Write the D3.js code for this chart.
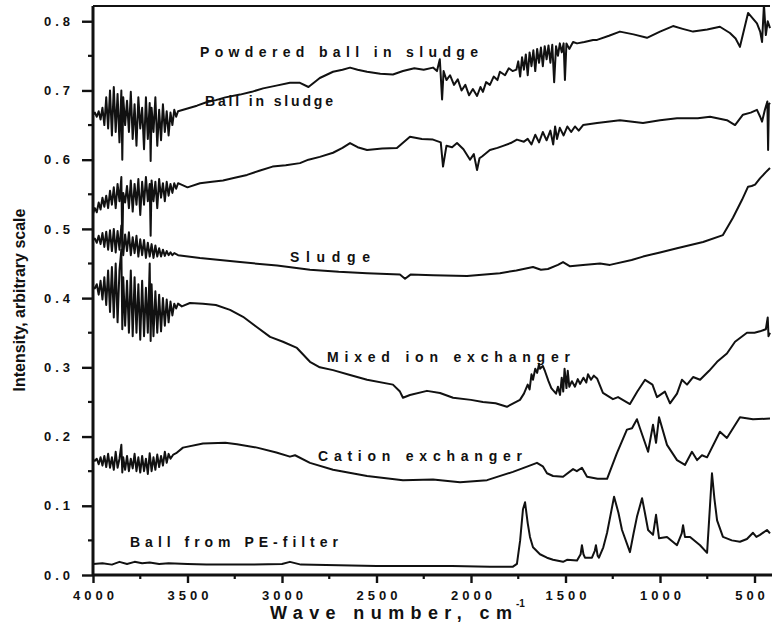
<!DOCTYPE html>
<html><head><meta charset="utf-8">
<script src="https://cdn.jsdelivr.net/npm/d3@7"></script>
<style>body{margin:0;background:#fff} svg{display:block}</style>
</head><body><svg id="c" width="772" height="628"></svg>
<script>
// ---------- DATA ([wavenumber cm^-1, intensity]) ----------
const powderedBallInSludge = [[4000,0.665],[3990,0.668],[3980,0.662],[3970,0.670],[3960,0.658],[3950,0.675],[3940,0.650],[3930,0.690],[3920,0.645],[3910,0.700],[3900,0.635],[3890,0.705],[3880,0.640],[3870,0.695],[3860,0.625],[3850,0.700],[3845,0.600],[3840,0.690],[3830,0.650],[3820,0.685],[3810,0.640],[3800,0.698],[3790,0.630],[3780,0.680],[3770,0.620],[3760,0.690],[3750,0.645],[3740,0.675],[3730,0.615],[3720,0.690],[3710,0.630],[3700,0.682],[3695,0.598],[3690,0.675],[3680,0.640],[3670,0.690],[3660,0.620],[3650,0.672],[3640,0.628],[3630,0.680],[3620,0.640],[3610,0.670],[3600,0.635],[3590,0.668],[3580,0.650],[3570,0.672],[3560,0.662],[3550,0.670],[3500,0.674],[3450,0.678],[3400,0.683],[3350,0.686],[3300,0.690],[3222,0.694],[3160,0.698],[3100,0.703],[3030,0.707],[2958,0.711],[2905,0.711],[2860,0.705],[2800,0.718],[2730,0.727],[2680,0.730],[2640,0.733],[2600,0.730],[2550,0.727],[2480,0.724],[2413,0.723],[2360,0.728],[2300,0.732],[2250,0.730],[2201,0.733],[2180,0.728],[2165,0.745],[2153,0.687],[2145,0.728],[2130,0.715],[2111,0.722],[2090,0.708],[2070,0.716],[2050,0.700],[2030,0.708],[2010,0.693],[1990,0.702],[1968,0.692],[1950,0.705],[1937,0.698],[1920,0.712],[1900,0.708],[1880,0.720],[1860,0.715],[1847,0.727],[1820,0.722],[1800,0.732],[1780,0.728],[1760,0.730],[1750,0.742],[1740,0.720],[1730,0.748],[1720,0.730],[1710,0.752],[1700,0.722],[1690,0.755],[1680,0.735],[1670,0.758],[1660,0.728],[1650,0.760],[1640,0.740],[1630,0.762],[1620,0.735],[1610,0.764],[1600,0.745],[1590,0.765],[1580,0.740],[1570,0.766],[1560,0.712],[1550,0.764],[1540,0.750],[1530,0.768],[1520,0.755],[1510,0.768],[1503,0.715],[1495,0.768],[1480,0.760],[1460,0.770],[1439,0.768],[1400,0.770],[1354,0.773],[1333,0.773],[1270,0.779],[1212,0.785],[1140,0.781],[1069,0.776],[1000,0.785],[931,0.793],[880,0.789],[825,0.785],[750,0.788],[683,0.792],[630,0.783],[600,0.775],[577,0.763],[534,0.812],[487,0.797],[470,0.785],[460,0.770],[450,0.824],[440,0.780],[430,0.800],[418,0.790]];

const ballInSludge = [[4000,0.522],[3990,0.530],[3980,0.524],[3970,0.538],[3960,0.528],[3950,0.545],[3940,0.532],[3930,0.548],[3920,0.530],[3910,0.555],[3900,0.535],[3890,0.560],[3880,0.530],[3870,0.565],[3860,0.540],[3850,0.575],[3845,0.470],[3840,0.552],[3830,0.538],[3820,0.562],[3810,0.530],[3800,0.570],[3790,0.525],[3780,0.565],[3770,0.535],[3760,0.572],[3750,0.520],[3740,0.568],[3730,0.535],[3720,0.575],[3710,0.540],[3700,0.565],[3695,0.490],[3690,0.570],[3680,0.540],[3670,0.568],[3660,0.530],[3650,0.572],[3640,0.545],[3630,0.566],[3620,0.540],[3610,0.568],[3600,0.548],[3590,0.565],[3580,0.552],[3570,0.566],[3560,0.558],[3550,0.566],[3500,0.560],[3434,0.566],[3370,0.568],[3312,0.570],[3250,0.574],[3185,0.578],[3120,0.584],[3050,0.590],[2980,0.592],[2905,0.595],[2860,0.600],[2800,0.604],[2730,0.610],[2680,0.617],[2640,0.624],[2600,0.618],[2550,0.614],[2470,0.616],[2392,0.617],[2323,0.633],[2260,0.630],[2201,0.629],[2160,0.625],[2148,0.590],[2130,0.620],[2100,0.618],[2074,0.624],[2040,0.615],[2005,0.600],[1985,0.608],[1968,0.585],[1955,0.602],[1940,0.605],[1900,0.614],[1860,0.617],[1830,0.620],[1790,0.624],[1757,0.629],[1720,0.626],[1700,0.630],[1680,0.622],[1660,0.636],[1640,0.625],[1620,0.640],[1600,0.628],[1580,0.642],[1565,0.622],[1555,0.648],[1545,0.630],[1530,0.646],[1510,0.635],[1490,0.648],[1470,0.640],[1450,0.648],[1430,0.642],[1407,0.650],[1333,0.653],[1212,0.657],[1090,0.653],[1000,0.657],[910,0.660],[800,0.660],[735,0.662],[646,0.657],[603,0.650],[561,0.665],[520,0.668],[487,0.672],[470,0.662],[460,0.655],[445,0.672],[432,0.684],[428,0.614],[424,0.680],[418,0.682]];

const sludge = [[4000,0.484],[3990,0.486],[3980,0.480],[3970,0.490],[3960,0.478],[3950,0.494],[3940,0.474],[3930,0.496],[3920,0.470],[3910,0.498],[3900,0.468],[3890,0.500],[3880,0.466],[3870,0.497],[3860,0.470],[3850,0.505],[3840,0.462],[3830,0.492],[3820,0.468],[3810,0.495],[3800,0.462],[3790,0.488],[3780,0.465],[3770,0.490],[3760,0.460],[3750,0.485],[3740,0.462],[3730,0.484],[3720,0.458],[3710,0.480],[3700,0.460],[3690,0.478],[3680,0.458],[3670,0.476],[3660,0.460],[3650,0.472],[3640,0.460],[3630,0.470],[3620,0.461],[3610,0.468],[3600,0.462],[3590,0.466],[3580,0.462],[3570,0.465],[3550,0.462],[3434,0.458],[3222,0.452],[3026,0.447],[2852,0.441],[2700,0.438],[2550,0.436],[2376,0.434],[2349,0.428],[2320,0.434],[2200,0.433],[2021,0.432],[1847,0.436],[1760,0.440],[1672,0.445],[1630,0.441],[1593,0.442],[1540,0.448],[1513,0.452],[1476,0.446],[1407,0.448],[1317,0.450],[1265,0.448],[1150,0.455],[1090,0.460],[1000,0.466],[910,0.472],[772,0.481],[667,0.491],[614,0.516],[566,0.542],[534,0.561],[515,0.562],[497,0.564],[471,0.573],[440,0.582],[418,0.588]];

const mixedIonExchanger = [[4000,0.416],[3990,0.414],[3980,0.420],[3970,0.405],[3960,0.425],[3950,0.398],[3940,0.430],[3930,0.390],[3920,0.440],[3910,0.380],[3900,0.445],[3890,0.372],[3880,0.450],[3870,0.365],[3860,0.440],[3850,0.470],[3845,0.355],[3840,0.430],[3830,0.360],[3820,0.425],[3810,0.350],[3800,0.440],[3790,0.345],[3780,0.430],[3770,0.350],[3760,0.420],[3750,0.340],[3740,0.425],[3730,0.345],[3720,0.415],[3710,0.350],[3700,0.450],[3695,0.338],[3690,0.420],[3680,0.345],[3670,0.410],[3660,0.350],[3650,0.405],[3640,0.352],[3630,0.400],[3620,0.360],[3610,0.398],[3600,0.365],[3590,0.395],[3580,0.375],[3570,0.392],[3560,0.385],[3550,0.392],[3530,0.388],[3487,0.393],[3418,0.392],[3350,0.390],[3275,0.383],[3206,0.373],[3132,0.358],[3063,0.344],[2995,0.337],[2921,0.328],[2852,0.308],[2800,0.300],[2730,0.296],[2640,0.289],[2550,0.282],[2413,0.275],[2376,0.265],[2360,0.256],[2323,0.260],[2233,0.266],[2164,0.263],[2095,0.256],[2000,0.253],[1937,0.250],[1870,0.248],[1810,0.243],[1741,0.253],[1720,0.262],[1700,0.275],[1690,0.268],[1680,0.290],[1672,0.282],[1660,0.298],[1650,0.292],[1640,0.305],[1635,0.298],[1620,0.302],[1608,0.294],[1590,0.280],[1575,0.270],[1566,0.267],[1550,0.262],[1540,0.272],[1529,0.260],[1520,0.285],[1512,0.265],[1505,0.298],[1495,0.270],[1488,0.295],[1480,0.272],[1466,0.280],[1450,0.272],[1435,0.283],[1423,0.276],[1405,0.285],[1390,0.278],[1381,0.290],[1365,0.282],[1350,0.288],[1333,0.284],[1302,0.263],[1249,0.254],[1222,0.257],[1159,0.247],[1120,0.265],[1079,0.282],[1040,0.275],[1016,0.257],[974,0.265],[947,0.248],[910,0.262],[884,0.282],[857,0.275],[825,0.286],[788,0.282],[740,0.295],[698,0.308],[646,0.320],[603,0.337],[540,0.350],[500,0.350],[471,0.352],[440,0.355],[430,0.372],[426,0.345],[418,0.350]];

const cationExchanger = [[4000,0.166],[3990,0.165],[3980,0.168],[3970,0.160],[3960,0.170],[3950,0.158],[3940,0.172],[3930,0.156],[3920,0.175],[3910,0.155],[3900,0.170],[3890,0.152],[3880,0.178],[3870,0.155],[3860,0.168],[3850,0.188],[3845,0.148],[3840,0.170],[3830,0.152],[3820,0.172],[3810,0.150],[3800,0.168],[3790,0.154],[3780,0.175],[3770,0.150],[3760,0.170],[3750,0.148],[3740,0.172],[3730,0.150],[3720,0.168],[3710,0.146],[3700,0.176],[3690,0.150],[3680,0.170],[3670,0.152],[3660,0.174],[3650,0.156],[3640,0.172],[3630,0.158],[3620,0.178],[3610,0.162],[3600,0.175],[3590,0.168],[3575,0.174],[3560,0.176],[3524,0.184],[3418,0.190],[3300,0.191],[3238,0.189],[3132,0.184],[3030,0.177],[2958,0.171],[2931,0.173],[2852,0.162],[2730,0.152],[2550,0.143],[2360,0.137],[2201,0.138],[2058,0.134],[1915,0.137],[1778,0.149],[1700,0.157],[1651,0.162],[1620,0.157],[1598,0.147],[1566,0.143],[1513,0.142],[1460,0.153],[1440,0.150],[1413,0.155],[1386,0.142],[1330,0.139],[1280,0.139],[1228,0.176],[1175,0.210],[1148,0.212],[1122,0.225],[1106,0.212],[1063,0.178],[1037,0.217],[1021,0.191],[1005,0.228],[963,0.188],[910,0.166],[868,0.159],[831,0.178],[804,0.166],[778,0.173],[751,0.170],[683,0.207],[646,0.198],[577,0.228],[508,0.225],[418,0.226]];

const ballFromPEFilter = [[4000,0.016],[3950,0.017],[3900,0.015],[3860,0.019],[3820,0.016],[3780,0.019],[3740,0.017],[3700,0.018],[3650,0.016],[3600,0.017],[3500,0.016],[3400,0.015],[3200,0.015],[3000,0.016],[2958,0.019],[2900,0.015],[2700,0.014],[2500,0.013],[2300,0.013],[2100,0.013],[1900,0.012],[1778,0.012],[1757,0.016],[1740,0.050],[1725,0.095],[1714,0.105],[1700,0.075],[1688,0.055],[1672,0.040],[1635,0.030],[1598,0.025],[1566,0.022],[1513,0.019],[1492,0.022],[1439,0.021],[1420,0.030],[1413,0.043],[1405,0.030],[1397,0.025],[1360,0.025],[1345,0.035],[1339,0.043],[1330,0.028],[1323,0.025],[1300,0.040],[1280,0.061],[1243,0.113],[1220,0.090],[1201,0.065],[1159,0.033],[1140,0.060],[1122,0.084],[1095,0.111],[1080,0.090],[1063,0.065],[1037,0.058],[1021,0.087],[1005,0.053],[963,0.055],[910,0.043],[885,0.060],[878,0.072],[868,0.055],[841,0.055],[788,0.043],[751,0.032],[740,0.080],[725,0.147],[712,0.110],[698,0.079],[667,0.055],[620,0.050],[577,0.048],[540,0.052],[508,0.061],[490,0.055],[471,0.058],[434,0.065],[418,0.060]];

const seriesNames = ["Powdered ball in sludge","Ball in sludge","Sludge","Mixed ion exchanger","Cation exchanger","Ball from PE-filter"];
const seriesData = [powderedBallInSludge, ballInSludge, sludge, mixedIonExchanger, cationExchanger, ballFromPEFilter];
const xTicks = [4000,3500,3000,2500,2000,1500,1000,500];
const xMinorTicks = [3750,3250,2750,2250,1750,1250,750];
const yTicks = [0,0.1,0.2,0.3,0.4,0.5,0.6,0.7,0.8];
const yMinorTicks = [0.05,0.15,0.25,0.35,0.45,0.55,0.65,0.75];
const xTitle = "Wave number, cm";
const yTitle = "Intensity, arbitrary scale";

// ---------- LAYOUT ----------
const svg = d3.select("#c");
const L = 93, R = 770, T = 6, B = 575;
const x = d3.scaleLinear().domain([4000, 418]).range([L, R]);
const y = d3.scaleLinear().domain([0, 0.822]).range([B, T]);
const font = "'Liberation Sans', Arial, sans-serif";

svg.append("clipPath").attr("id","clip").append("rect")
  .attr("x", L).attr("y", T).attr("width", R - L + 2).attr("height", B - T);

const line = d3.line().x(d => x(d[0])).y(d => y(d[1]));
svg.append("g").attr("clip-path","url(#clip)").selectAll("path")
  .data(seriesData).join("path")
  .attr("d", line).attr("fill","none").attr("stroke","#111")
  .attr("stroke-width", 2).attr("stroke-linejoin","round");

// top frame line
svg.append("line").attr("x1", L).attr("x2", R).attr("y1", T).attr("y2", T)
  .attr("stroke","#111").attr("stroke-width", 2);

// Y axis
const yAx = svg.append("g").attr("transform", `translate(${L},0)`)
  .call(d3.axisLeft(y).tickValues(yTicks).tickSize(11).tickPadding(10).tickFormat(d3.format(".1f")));
yAx.append("g").selectAll("line").data(yMinorTicks).join("line")
  .attr("x1", -5).attr("x2", 0).attr("y1", d => y(d)).attr("y2", d => y(d))
  .attr("stroke","#111").attr("stroke-width", 2.2);
yAx.select(".domain").attr("d", `M0,${T}V${B}`).attr("stroke-width", 3).attr("stroke","#111");
yAx.selectAll(".tick line").attr("stroke-width", 2.4).attr("stroke","#111");
yAx.selectAll(".tick text").attr("font-family", font).attr("font-weight","bold")
  .attr("font-size", 13).attr("fill","#111").style("letter-spacing","4px").attr("x", -19);

// X axis
const xAx = svg.append("g").attr("transform", `translate(0,${B})`)
  .call(d3.axisBottom(x).tickValues(xTicks).tickSize(8).tickPadding(8).tickFormat(d3.format("d")));
xAx.append("g").selectAll("line").data(xMinorTicks).join("line")
  .attr("x1", d => x(d)).attr("x2", d => x(d)).attr("y1", 0).attr("y2", 4)
  .attr("stroke","#111").attr("stroke-width", 2.2);
xAx.select(".domain").attr("d", `M${L},0H${R + 2}`).attr("stroke-width", 3).attr("stroke","#111");
xAx.selectAll(".tick line").attr("stroke-width", 2.4).attr("stroke","#111");
xAx.selectAll(".tick text").attr("font-family", font).attr("font-weight","bold")
  .attr("font-size", 13).attr("fill","#111").style("letter-spacing","4px")
  .attr("dx", d => d === 500 ? -3 : 2);

// axis titles
svg.append("text").attr("x", 270).attr("y", 619)
  .attr("font-family", font).attr("font-weight","bold").attr("font-size", 18).attr("fill","#111")
  .attr("textLength", 242).attr("lengthAdjust","spacing").text(xTitle);
svg.append("text").attr("x", 516).attr("y", 607)
  .attr("font-family", font).attr("font-weight","bold").attr("font-size", 10).attr("fill","#111")
  .text("-1");
svg.append("text").attr("transform", "translate(25,300) rotate(-90)").attr("text-anchor","middle")
  .attr("font-family", font).attr("font-weight","bold").attr("font-size", 16).attr("fill","#111")
  .text(yTitle);

// series labels: [left x, right x, centre y]
const labelBoxes = [[200,478,52],[205,333,101],[290,370,257],[327,570,357],[318,522,456],[130,338,542]];
svg.append("g").selectAll("text").data(seriesNames).join("text")
  .attr("x", (d,i) => labelBoxes[i][0]).attr("y", (d,i) => labelBoxes[i][2] + 5)
  .attr("textLength", (d,i) => labelBoxes[i][1] - labelBoxes[i][0]).attr("lengthAdjust","spacing")
  .attr("font-family", font).attr("font-weight","bold").attr("font-size", 14).attr("fill","#111")
  .text(d => d);
</script></body></html>
